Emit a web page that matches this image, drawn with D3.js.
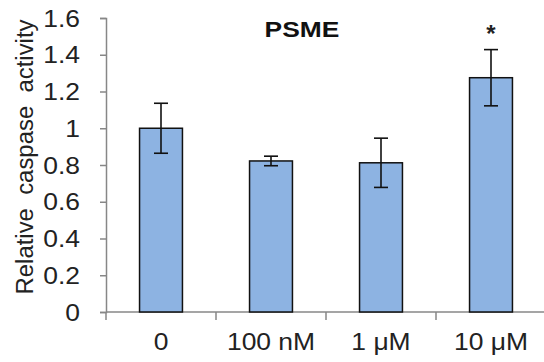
<!DOCTYPE html>
<html>
<head>
<meta charset="utf-8">
<script src="https://cdn.jsdelivr.net/npm/d3@7"></script>
<style>
  body { margin: 0; background: #fff; }
  text { font-family: "Liberation Sans", Arial, sans-serif; }
</style>
</head>
<body>
<div id="chart"></div>
<script>
// data
var groups = ["0", "100 nM", "1 μM", "10 μM"];
var means = [1.0, 0.822, 0.812, 1.275];
var errors = [0.136, 0.026, 0.134, 0.153];
var marks = ["", "", "", "*"];
var yTicks = [0, 0.2, 0.4, 0.6, 0.8, 1, 1.2, 1.4, 1.6];

var width = 544, height = 362;
var margin = { top: 18, right: -2, bottom: 50, left: 106 };
var sx = 1.15; // the figure is stretched sideways

var svg = d3.select("#chart").append("svg")
  .attr("width", width).attr("height", height);

var y = d3.scaleLinear().domain([0, 1.6]).range([height - margin.bottom, margin.top]);
// one slot per group, no padding: used for the tick marks
var xSlot = d3.scaleBand().domain(groups).range([margin.left, width - margin.right]);
// bars inside the slots
var x = d3.scaleBand().domain(groups).range([margin.left, width - margin.right])
  .paddingInner(0.61).paddingOuter(0.305);

var axisColor = "#878787";
var y0 = y(0);

// y axis
var gy = svg.append("g")
  .attr("transform", "translate(" + margin.left + ",0)")
  .call(d3.axisLeft(y).tickValues(yTicks).tickSize(6).tickFormat(function(d) { return String(d); }));
gy.select(".domain").attr("stroke", axisColor).attr("stroke-width", 1.5);
gy.selectAll(".tick line").attr("stroke", axisColor).attr("stroke-width", 1.5);
gy.selectAll(".tick text")
  .attr("x", null).attr("dy", "0.35em")
  .attr("transform", "translate(-26,0) scale(" + sx + ",1)")
  .attr("text-anchor", "end")
  .attr("font-size", 23).attr("fill", "#222");

// x axis line and boundary ticks
svg.append("line")
  .attr("x1", margin.left).attr("x2", width)
  .attr("y1", y0).attr("y2", y0)
  .attr("stroke", axisColor).attr("stroke-width", 1.5);
svg.append("g").selectAll("line")
  .data(groups)
  .enter().append("line")
  .attr("x1", function(d) { return xSlot(d); })
  .attr("x2", function(d) { return xSlot(d); })
  .attr("y1", y0).attr("y2", y0 + 8)
  .attr("stroke", axisColor).attr("stroke-width", 1.5);

svg.append("g").selectAll("text")
  .data(groups)
  .enter().append("text")
  .attr("transform", function(d) {
    return "translate(" + (xSlot(d) + xSlot.bandwidth() / 2) + "," + (y0 + 38) + ") scale(" + sx + ",1)";
  })
  .attr("text-anchor", "middle")
  .attr("font-size", 23).attr("fill", "#222")
  .text(function(d) { return d; });

// bars
svg.append("g").selectAll("rect")
  .data(means)
  .enter().append("rect")
  .attr("x", function(d, i) { return x(groups[i]); })
  .attr("y", function(d) { return y(d); })
  .attr("width", x.bandwidth())
  .attr("height", function(d) { return y0 - y(d); })
  .attr("fill", "#8db3e2")
  .attr("stroke", "#111")
  .attr("stroke-width", 1.5);

// error bars
var eb = svg.append("g").attr("stroke", "#111").attr("stroke-width", 1.6);
means.forEach(function(m, i) {
  var cx = x(groups[i]) + x.bandwidth() / 2;
  var hi = y(m + errors[i]), lo = y(m - errors[i]);
  eb.append("line").attr("x1", cx).attr("x2", cx).attr("y1", hi).attr("y2", lo);
  eb.append("line").attr("x1", cx - 7).attr("x2", cx + 7).attr("y1", hi).attr("y2", hi);
  eb.append("line").attr("x1", cx - 7).attr("x2", cx + 7).attr("y1", lo).attr("y2", lo);
});

// significance marks
svg.append("g").selectAll("text")
  .data(marks)
  .enter().append("text")
  .attr("x", function(d, i) { return x(groups[i]) + x.bandwidth() / 2; })
  .attr("y", function(d, i) { return y(means[i] + errors[i]) - 8; })
  .attr("text-anchor", "middle")
  .attr("font-size", 24).attr("font-weight", "bold").attr("fill", "#222")
  .text(function(d) { return d; });

// title
svg.append("text")
  .attr("transform", "translate(302,37) scale(1.2,1)")
  .attr("text-anchor", "middle")
  .attr("font-size", 22).attr("font-weight", "bold").attr("fill", "#111")
  .text("PSME");

// y axis title
svg.append("text")
  .attr("transform", "translate(33,157) rotate(-90) scale(1," + sx + ")")
  .attr("text-anchor", "middle")
  .attr("font-size", 21).attr("fill", "#222")
  .style("white-space", "pre")
  .attr("textLength", 275).attr("lengthAdjust", "spacingAndGlyphs")
  .text("Relative  caspase  activity");
</script>
</body>
</html>
